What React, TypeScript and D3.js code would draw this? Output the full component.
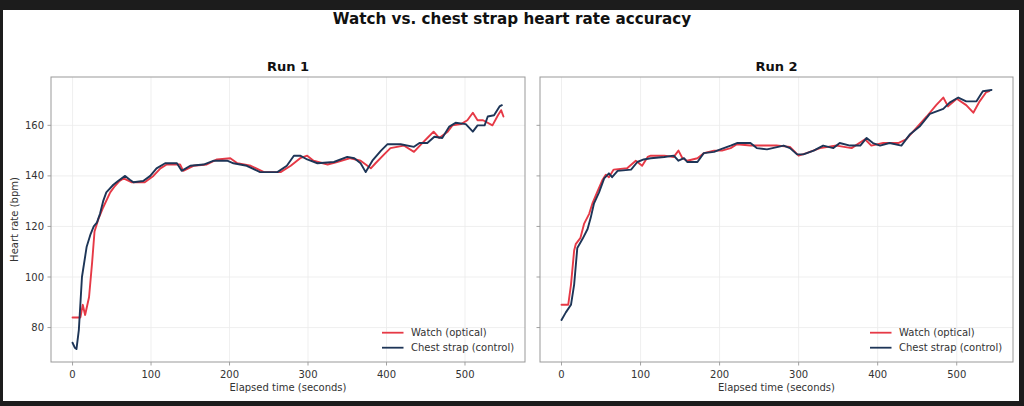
import React, { useEffect } from 'react';
import * as d3 from 'd3';

type Pt = [number, number];

// [elapsed seconds, bpm]
const run1Watch: Pt[] = [
  [0, 84], [10, 84], [13, 89], [16, 85], [21, 92], [25, 106], [28, 118], [31, 121], [33, 123], [39, 127.5],
  [48, 133.5], [54, 136], [60, 138], [65, 139], [75, 137.5], [92, 137.5], [103, 140], [112, 143], [120, 144.5],
  [137, 144.5], [141, 142], [154, 144], [171, 144.5], [184, 146.5], [201, 147], [210, 145], [227, 144],
  [244, 141.5], [265, 141.5], [278, 144], [290, 147], [299, 148], [307, 146], [325, 144.5], [337, 145.5],
  [354, 147], [367, 146], [380, 143], [386, 145], [397, 148.5], [405, 151], [422, 152], [435, 149.5],
  [444, 152.5], [452, 155], [460, 157.5], [467, 155], [478, 157.5], [484, 160], [495, 160.5], [503, 162],
  [510, 165], [516, 162], [523, 162], [535, 160], [542, 164], [546, 166], [549, 163.5],
];

const run1Strap: Pt[] = [
  [0, 74], [3, 72], [5, 71.5], [8, 79], [12, 100], [18, 112], [23, 117], [27, 120], [31, 121.5], [35, 125],
  [39, 130], [43, 133.5], [52, 136.5], [58, 138], [67, 140], [73, 138.5], [77.5, 137.5], [90, 138], [99, 140],
  [107, 143], [118, 145], [133, 145], [139, 142], [150, 144], [167, 144.5], [180, 146], [197, 146], [205, 145],
  [222, 144], [239, 141.5], [261, 141.5], [273, 144], [282, 148], [290, 148], [299, 146.5], [312, 145],
  [333, 145.5], [350, 147.5], [359, 147], [367, 145], [373.5, 141.5], [382, 146], [393, 150], [401, 152.5],
  [418, 152.5], [435, 151.5], [442, 153], [452, 153], [461, 155.5], [471, 155], [480, 159.5], [488, 161],
  [501, 160.5], [510, 157.5], [516, 160], [525, 160], [529, 163.5], [537, 164], [544, 167.5], [547, 168],
];

const run2Watch: Pt[] = [
  [0, 89], [8.5, 89], [12, 97], [16, 110.5], [18, 113], [24, 115.5], [28.5, 121], [35, 125], [39, 129],
  [45, 133.5], [52, 138.5], [56, 140.5], [60, 139.5], [66, 142.5], [83, 143], [94, 146], [102, 144],
  [109, 147.5], [113, 148], [130, 148], [142, 147.5], [148, 150], [153, 147], [159, 146], [172, 147],
  [180, 149], [193, 150], [203, 150], [214, 151], [222, 152.5], [239, 152], [272, 152], [289, 151.5],
  [300, 148], [310, 149], [327, 151], [348, 152], [367, 151], [384, 154.5], [392, 152], [407, 153],
  [426, 153], [436, 154.5], [449, 159], [462, 163.5], [474, 168], [483, 171], [489, 167.5], [500, 170.5],
  [512, 168], [521, 165], [529, 169.5], [537, 173], [541, 173.5],
];

const run2Strap: Pt[] = [
  [0, 83], [5.5, 86], [12, 89], [16, 97], [20, 111.5], [26.5, 115], [33, 119], [37, 123.5], [41, 129],
  [47.5, 133.5], [54, 139], [60, 141], [64, 139.5], [71, 142], [88, 142.5], [96, 145.5], [104, 146.5],
  [113, 147], [130, 147.5], [142, 148], [148, 146], [155, 147], [159, 145.5], [172, 145.5], [180, 149],
  [193, 149.5], [201, 150.5], [214, 152], [222, 153], [239, 153], [247, 151], [260, 150.5], [281, 152],
  [289, 151], [298, 148.5], [306, 148.5], [319, 150], [331, 152], [344, 151], [352, 153], [365, 152],
  [378, 152], [386, 155], [394, 153], [403, 152], [415, 153], [430, 152], [441, 156.5], [453, 159.5],
  [466, 164.5], [483, 166.5], [491, 169], [502, 171], [512, 169.5], [525, 169.5], [533, 173.5], [544, 174],
];

const runTitles = ['Run 1', 'Run 2'];
const seriesNames = ['Watch (optical)', 'Chest strap (control)'];
const seriesColors = ['#e63946', '#1d3557'];
const xTickValues = [0, 100, 200, 300, 400, 500];
const yTickValues = [80, 100, 120, 140, 160];

const W = 1024, H = 406;
const top = 77, bottom = 362;
const panels = [
  { x0: 51, x1: 525, series: [run1Watch, run1Strap] },
  { x0: 540, x1: 1013, series: [run2Watch, run2Strap] },
];
const font = '"DejaVu Sans", sans-serif';

// matplotlib style 5% margins
const pad = (lo: number, hi: number): [number, number] => {
  const m = (hi - lo) * 0.05;
  return [lo - m, hi + m];
};

const App = () => {
  useEffect(() => {
    document.body.style.margin = '0';
  }, []);

  const allBpm = [run1Watch, run1Strap, run2Watch, run2Strap].flat().map(d => d[1]);
  const [yMin, yMax] = d3.extent(allBpm) as [number, number];
  const y = d3.scaleLinear().domain(pad(yMin, yMax)).range([bottom, top]);

  return (
    <svg width={W} height={H} style={{ display: 'block', fontFamily: font }}>
      <rect x={0} y={0} width={W} height={H} fill="#1c1c1c" />
      <rect x={3} y={10} width={1016} height={391} fill="#ffffff" />
      <text x={512} y={23.5} textAnchor="middle" fontSize={15.2} fontWeight="bold" fill="#111">
        Watch vs. chest strap heart rate accuracy
      </text>

      {panels.map((p, pi) => {
        const tMax = d3.max(p.series.flat(), d => d[0]) as number;
        const x = d3.scaleLinear().domain(pad(0, tMax)).range([p.x0, p.x1]);
        const line = d3.line<Pt>().x(d => x(d[0])).y(d => y(d[1]));
        const cx = (p.x0 + p.x1) / 2;
        return (
          <g key={pi}>
            {/* grid */}
            {xTickValues.map(t => (
              <line key={'gx' + t} x1={x(t)} x2={x(t)} y1={top} y2={bottom} stroke="#ebebeb" strokeWidth={0.8} />
            ))}
            {yTickValues.map(v => (
              <line key={'gy' + v} x1={p.x0} x2={p.x1} y1={y(v)} y2={y(v)} stroke="#ebebeb" strokeWidth={0.8} />
            ))}

            {p.series.map((s, si) => (
              <path key={si} d={line(s) ?? ''} fill="none" stroke={seriesColors[si]}
                strokeWidth={1.9} strokeLinejoin="round" strokeLinecap="round" />
            ))}

            <rect x={p.x0} y={top} width={p.x1 - p.x0} height={bottom - top} fill="none" stroke="#999" strokeWidth={1} />

            {/* x axis */}
            {xTickValues.map(t => (
              <g key={'xt' + t}>
                <line x1={x(t)} x2={x(t)} y1={bottom} y2={bottom + 3.5} stroke="#999" strokeWidth={0.9} />
                <text x={x(t)} y={378} textAnchor="middle" fontSize={10} fill="#333">{t}</text>
              </g>
            ))}
            <text x={cx} y={390.5} textAnchor="middle" fontSize={10} fill="#333">Elapsed time (seconds)</text>

            {/* y axis */}
            {yTickValues.map(v => (
              <g key={'yt' + v}>
                <line x1={p.x0 - 3.5} x2={p.x0} y1={y(v)} y2={y(v)} stroke="#999" strokeWidth={0.9} />
                {pi === 0 && (
                  <text x={p.x0 - 7} y={y(v) + 3.6} textAnchor="end" fontSize={10} fill="#333">{v}</text>
                )}
              </g>
            ))}
            {pi === 0 && (
              <text transform={`translate(18,${(top + bottom) / 2}) rotate(-90)`} textAnchor="middle" fontSize={10} fill="#333">
                Heart rate (bpm)
              </text>
            )}

            <text x={cx} y={70.5} textAnchor="middle" fontSize={13} fontWeight="bold" fill="#111">
              {runTitles[pi]}
            </text>

            {/* legend */}
            {seriesNames.map((n, si) => {
              const ly = 332.7 + si * 15;
              const lx = p.x1 - 143;
              return (
                <g key={'lg' + si}>
                  <line x1={lx} x2={lx + 21.5} y1={ly} y2={ly} stroke={seriesColors[si]} strokeWidth={1.8} />
                  <text x={lx + 29} y={ly + 3.7} fontSize={10} fill="#333">{n}</text>
                </g>
              );
            })}
          </g>
        );
      })}
    </svg>
  );
};

export default App;
